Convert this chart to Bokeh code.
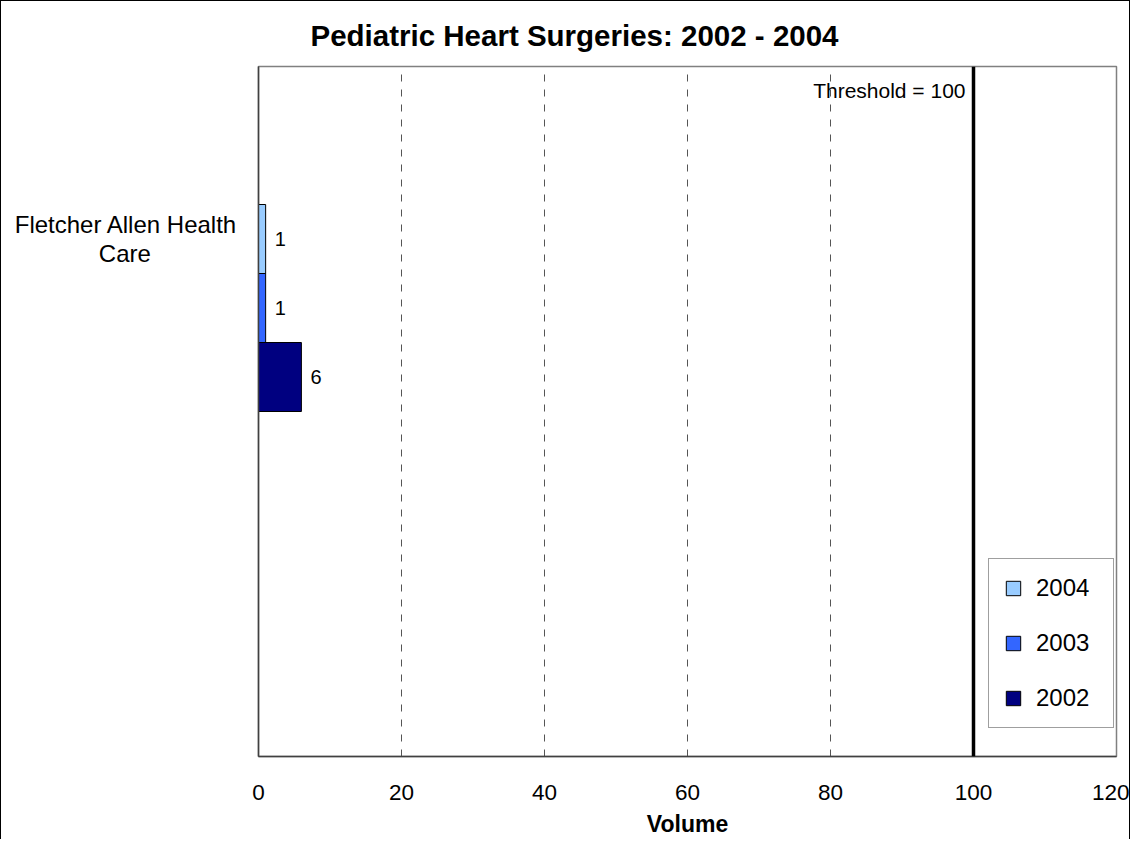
from bokeh.plotting import figure
from bokeh.models import (Range1d, FixedTicker, Span, Label, Legend, LegendItem,
                          ColumnDataSource)
from bokeh.core.properties import value
from bokeh.embed import file_html
from bokeh.resources import INLINE

# ---- data ----
title_text = "Pediatric Heart Surgeries: 2002 - 2004"
hospitals = ["Fletcher Allen Health Care"]
hospital_label_lines = ["Fletcher Allen Health", "Care"]
series_years = ["2004", "2003", "2002"]          # top to bottom
series_values = [1, 1, 6]
series_colors = ["#99CCFF", "#3366FF", "#000080"]
x_ticks = [0, 20, 40, 60, 80, 100, 120]
x_axis_label = "Volume"
THRESHOLD = 100
threshold_text = "Threshold = 100"

FONT = "Liberation Sans"
N_SLOTS = 6          # series slots per category (3 of them empty)
CAT_CENTER = 5.0     # category center on a 0..10 band

p = figure(output_backend="svg", toolbar_location=None,
           frame_width=858, frame_height=690,
           min_border_left=257, min_border_right=13,
           min_border_top=64, min_border_bottom=83,
           x_range=Range1d(0, 120), y_range=Range1d(0, 10))
p.styles = {"border-left": "1px solid black", "border-top": "1px solid black",
            "border-right": "1px solid black"}
p.background_fill_color = "white"
p.border_fill_color = "white"
p.outline_line_color = "#808080"
p.outline_line_width = 1.5

# title
p.title.text = title_text
p.title.align = "left"
p.title.offset = 52
p.title.standoff = 30
p.title.text_font = FONT
p.title.text_font_size = "29.5px"
p.title.text_font_style = "bold"
p.title.text_color = "black"

# bars
ys = [CAT_CENTER + (N_SLOTS / 2 - 0.5 - i) for i in range(len(series_years))]
src = ColumnDataSource(dict(y=ys, v=series_values, c=series_colors,
                            year=series_years,
                            lbl=[str(v) for v in series_values]))
renderers = []
for i, yr in enumerate(series_years):
    r = p.hbar(y=[ys[i]], right=[series_values[i]], left=0, height=1.0,
               fill_color=series_colors[i], line_color="black", line_width=1)
    renderers.append(r)

p.text(x="v", y="y", text="lbl", source=src, x_offset=9,
       text_align="left", text_baseline="middle",
       text_font=value(FONT), text_font_size="20px", text_color="black")

# threshold
p.add_layout(Span(location=THRESHOLD, dimension="height", line_color="black",
                  line_width=3.5))
p.add_layout(Label(x=THRESHOLD, y=9.65, x_offset=-8, text=threshold_text,
                   text_align="right", text_baseline="middle",
                   text_font=FONT, text_font_size="21px", text_color="black"))

# axes
p.xaxis.ticker = FixedTicker(ticks=x_ticks)
p.xaxis.major_tick_line_color = None
p.xaxis.minor_tick_line_color = None
p.xaxis.major_label_standoff = 22
p.xaxis.major_label_text_font = FONT
p.xaxis.major_label_text_font_size = "22.5px"
p.xaxis.major_label_text_color = "black"
p.xaxis.axis_line_color = "#404040"
p.xaxis.axis_line_width = 1.5
p.xaxis.axis_label = x_axis_label
p.xaxis.axis_label_text_font = FONT
p.xaxis.axis_label_text_font_size = "23px"
p.xaxis.axis_label_text_font_style = "bold"
p.xaxis.axis_label_text_color = "black"
p.xaxis.axis_label_standoff = 8

# category label: two centred lines (right-aligned box, so pad the short line)
NBSP = "\u00a0"
cat_label = hospital_label_lines[0] + "\n" + hospital_label_lines[1] + NBSP * 13
p.yaxis.ticker = FixedTicker(ticks=[ys[0]])
p.yaxis.major_label_overrides = {ys[0]: cat_label}
p.yaxis.major_tick_line_color = None
p.yaxis.minor_tick_line_color = None
p.yaxis.major_label_standoff = 15
p.yaxis.major_label_text_font = FONT
p.yaxis.major_label_text_font_size = "24px"
p.yaxis.major_label_text_line_height = 1.05
p.yaxis.major_label_text_color = "black"
p.yaxis.axis_line_color = "#404040"
p.yaxis.axis_line_width = 1.5

p.xgrid.grid_line_color = "#555555"
p.xgrid.grid_line_dash = "7 8"
p.xgrid.grid_line_width = 1
p.ygrid.grid_line_color = None

legend = Legend(items=[LegendItem(label=yr, renderers=[renderers[i]])
                       for i, yr in enumerate(series_years)],
                location=(730, 28), orientation="vertical",
                label_text_font=FONT, label_text_font_size="24px",
                label_text_color="black",
                glyph_width=18, glyph_height=18, label_standoff=14,
                label_width=62, padding=15, spacing=27,
                border_line_color="#404040", border_line_width=1,
                background_fill_alpha=1.0)
p.add_layout(legend)

open("out.html", "w").write(file_html(p, INLINE))
